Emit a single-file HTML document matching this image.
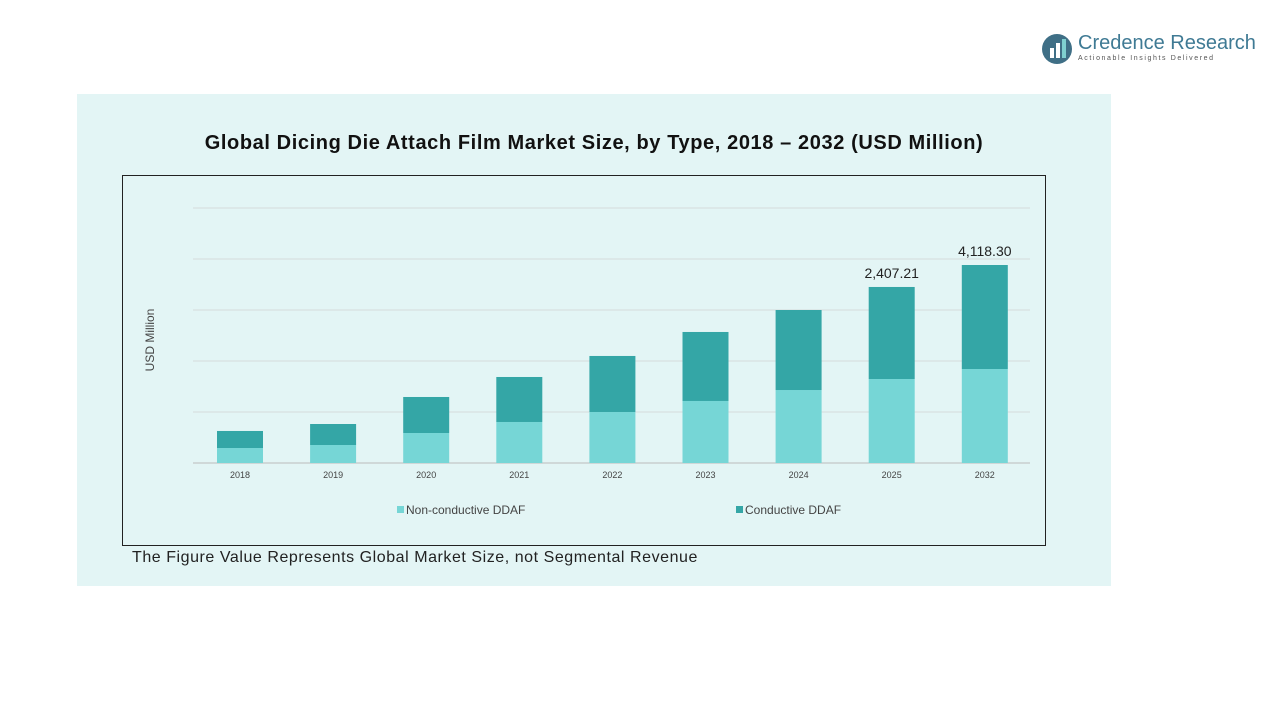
<!DOCTYPE html>
<html><head><meta charset="utf-8">
<style>
body{margin:0;width:1280px;height:720px;background:#fff;font-family:"Liberation Sans",sans-serif;position:relative;overflow:hidden}
.panel{position:absolute;left:77px;top:94px;width:1034px;height:492px;background:#e3f5f5}
.title{position:absolute;left:77px;width:1034px;top:132px;text-align:center;font-weight:bold;font-size:20px;letter-spacing:0.6px;color:#111}
.box{position:absolute;left:122px;top:175px;width:922px;height:369px;border:1px solid #222}
.foot{position:absolute;left:132px;top:549px;font-size:16px;letter-spacing:0.55px;color:#222}
</style></head><body>
<div class="panel"></div>
<div style="position:absolute;left:1040px;top:32px;">
 <svg width="34" height="34"><circle cx="17" cy="17" r="15" fill="#3f6f86"/><rect x="10" y="16" width="4" height="10" fill="#fff"/><rect x="16" y="11" width="4" height="15" fill="#fff"/><rect x="22" y="7" width="4" height="19" fill="#7fd0d0"/></svg>
 <div style="position:absolute;left:38px;top:0;font-size:20px;color:#3f7a94;white-space:nowrap">Credence Research</div>
 <div style="position:absolute;left:38px;top:23px;font-size:7px;letter-spacing:1.6px;color:#555;white-space:nowrap">Actionable Insights Delivered</div>
</div>
<div class="title">Global Dicing Die Attach Film Market Size, by Type, 2018 – 2032 (USD Million)</div>
<div class="box"></div>
<svg id="chart" width="1280" height="720" style="position:absolute;left:0;top:0"></svg>
<div class="foot">The Figure Value Represents Global Market Size, not Segmental Revenue</div>
<script>
const categories=["2018","2019","2020","2021","2022","2023","2024","2025","2032"];
const nonConductive=[312,374,624,853,1061,1290,1518,1747,1955];
const conductive=[354,437,749,936,1165,1435,1664,1914,2163];
const dataLabels=["","","","","","","","2,407.21","4,118.30"];
const gridStep=1060.8, gridCount=5;
const svg=document.getElementById('chart');
const NS="http://www.w3.org/2000/svg";
const base=463, pxPer=198/4118;
const y=v=>base-v*pxPer;
const x=i=>240+i*93.1;
function mk(t,a){const e=document.createElementNS(NS,t);for(const k in a)e.setAttribute(k,a[k]);svg.appendChild(e);return e;}
for(let g=0;g<=gridCount;g++){const l=mk('line',{x1:193,x2:1030,y1:y(g*gridStep),y2:y(g*gridStep),stroke:g==0?'#bbb':'#d4dcdc','stroke-width':1});
}
categories.forEach((c,i)=>{
 const a=mk('rect',{x:x(i)-23,width:46,y:y(nonConductive[i]),height:nonConductive[i]*pxPer,fill:'#76d6d6'});
 
 const t=nonConductive[i]+conductive[i];
 const b=mk('rect',{x:x(i)-23,width:46,y:y(t),height:conductive[i]*pxPer,fill:'#34a6a6'});
 
 const tx=mk('text',{x:x(i),y:478,'font-size':9,'text-anchor':'middle',fill:'#444'});tx.textContent=c;
 
 if(dataLabels[i]){const d=mk('text',{x:x(i),y:y(t)-9,'font-size':14,'text-anchor':'middle',fill:'#222'});d.textContent=dataLabels[i];
 }
});
const yt=mk('text',{x:0,y:0,'font-size':12,'text-anchor':'middle',fill:'#444',transform:'translate(154,340) rotate(-90)'});yt.textContent='USD Million';

const leg=[["Non-conductive DDAF","#76d6d6",397],["Conductive DDAF","#34a6a6",736]];
leg.forEach(l=>{const r=mk('rect',{x:l[2],y:506,width:7,height:7,fill:l[1]});

const t=mk('text',{x:l[2]+9,y:514,'font-size':12,fill:'#444'});t.textContent=l[0];
});
</script>
</body></html>
